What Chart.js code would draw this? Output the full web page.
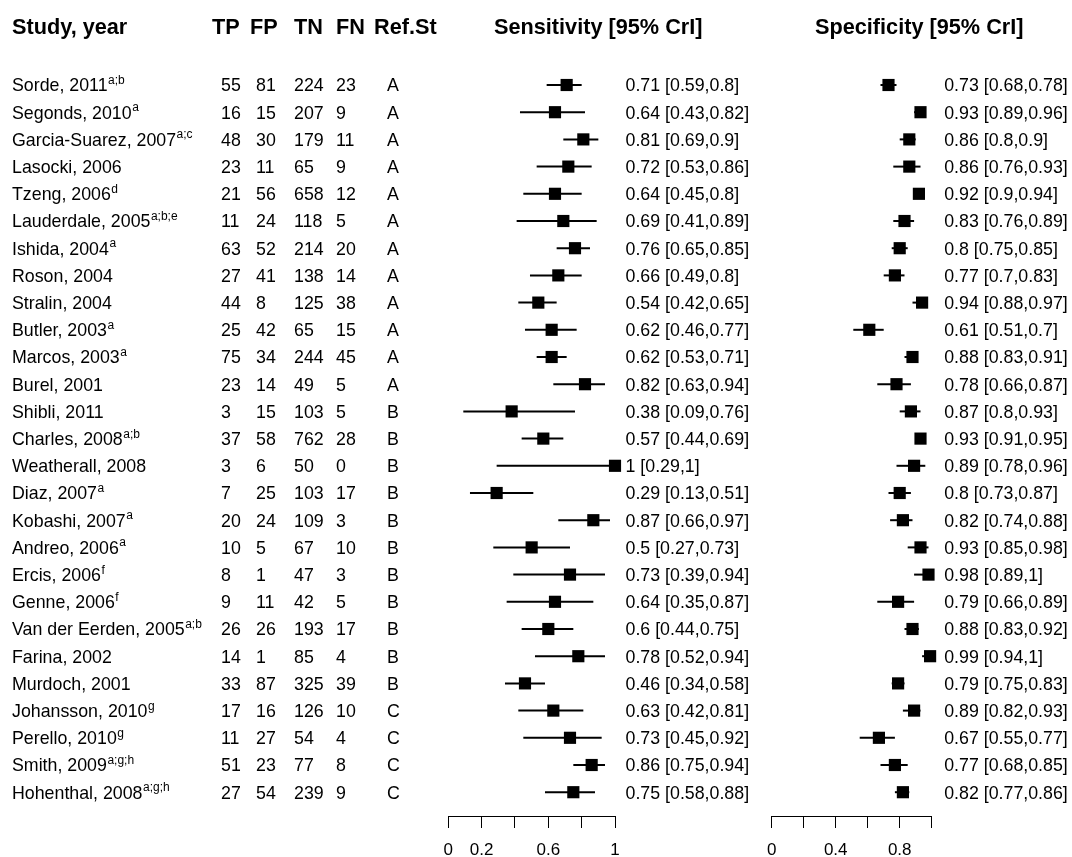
<!DOCTYPE html>
<html>
<head>
<meta charset="utf-8">
<script src="https://cdn.jsdelivr.net/npm/chart.js@4.4.1/dist/chart.umd.min.js"></script>
<style>
html, body { margin: 0; padding: 0; background: #fff; }
#page { position: relative; width: 1072px; height: 857px; overflow: hidden; }
.panel { position: absolute; top: 0; height: 857px; }
</style>
</head>
<body>
<div id="page">
  <div class="panel" id="sensBox" style="left:0;width:760px"><canvas id="sensChart"></canvas></div>
  <div class="panel" id="specBox" style="left:760px;width:312px"><canvas id="specChart"></canvas></div>
</div>
<script>
const studies = ['Sorde, 2011', 'Segonds, 2010', 'Garcia-Suarez, 2007', 'Lasocki, 2006', 'Tzeng, 2006',
  'Lauderdale, 2005', 'Ishida, 2004', 'Roson, 2004', 'Stralin, 2004', 'Butler, 2003', 'Marcos, 2003',
  'Burel, 2001', 'Shibli, 2011', 'Charles, 2008', 'Weatherall, 2008', 'Diaz, 2007', 'Kobashi, 2007',
  'Andreo, 2006', 'Ercis, 2006', 'Genne, 2006', 'Van der Eerden, 2005', 'Farina, 2002', 'Murdoch, 2001',
  'Johansson, 2010', 'Perello, 2010', 'Smith, 2009', 'Hohenthal, 2008'];
const notes = ['a;b', 'a', 'a;c', '', 'd', 'a;b;e', 'a', '', '', 'a', 'a', '', '', 'a;b', '', 'a', 'a',
  'a', 'f', 'f', 'a;b', '', '', 'g', 'g', 'a;g;h', 'a;g;h'];
const tp = [55, 16, 48, 23, 21, 11, 63, 27, 44, 25, 75, 23, 3, 37, 3, 7, 20, 10, 8, 9, 26, 14, 33, 17, 11, 51, 27];
const fp = [81, 15, 30, 11, 56, 24, 52, 41, 8, 42, 34, 14, 15, 58, 6, 25, 24, 5, 1, 11, 26, 1, 87, 16, 27, 23, 54];
const tn = [224, 207, 179, 65, 658, 118, 214, 138, 125, 65, 244, 49, 103, 762, 50, 103, 109, 67, 47, 42, 193, 85, 325, 126, 54, 77, 239];
const fn = [23, 9, 11, 9, 12, 5, 20, 14, 38, 15, 45, 5, 5, 28, 0, 17, 3, 10, 3, 5, 17, 4, 39, 10, 4, 8, 9];
const refSt = ['A', 'A', 'A', 'A', 'A', 'A', 'A', 'A', 'A', 'A', 'A', 'A', 'B', 'B', 'B', 'B', 'B', 'B',
  'B', 'B', 'B', 'B', 'B', 'C', 'C', 'C', 'C'];

const sensEst = [0.71, 0.64, 0.81, 0.72, 0.64, 0.69, 0.76, 0.66, 0.54, 0.62, 0.62, 0.82, 0.38, 0.57, 1,
  0.29, 0.87, 0.5, 0.73, 0.64, 0.6, 0.78, 0.46, 0.63, 0.73, 0.86, 0.75];
const sensLo = [0.59, 0.43, 0.69, 0.53, 0.45, 0.41, 0.65, 0.49, 0.42, 0.46, 0.53, 0.63, 0.09, 0.44, 0.29,
  0.13, 0.66, 0.27, 0.39, 0.35, 0.44, 0.52, 0.34, 0.42, 0.45, 0.75, 0.58];
const sensHi = [0.8, 0.82, 0.9, 0.86, 0.8, 0.89, 0.85, 0.8, 0.65, 0.77, 0.71, 0.94, 0.76, 0.69, 1,
  0.51, 0.97, 0.73, 0.94, 0.87, 0.75, 0.94, 0.58, 0.81, 0.92, 0.94, 0.88];
const specEst = [0.73, 0.93, 0.86, 0.86, 0.92, 0.83, 0.8, 0.77, 0.94, 0.61, 0.88, 0.78, 0.87, 0.93, 0.89,
  0.8, 0.82, 0.93, 0.98, 0.79, 0.88, 0.99, 0.79, 0.89, 0.67, 0.77, 0.82];
const specLo = [0.68, 0.89, 0.8, 0.76, 0.9, 0.76, 0.75, 0.7, 0.88, 0.51, 0.83, 0.66, 0.8, 0.91, 0.78,
  0.73, 0.74, 0.85, 0.89, 0.66, 0.83, 0.94, 0.75, 0.82, 0.55, 0.68, 0.77];
const specHi = [0.78, 0.96, 0.9, 0.93, 0.94, 0.89, 0.85, 0.83, 0.97, 0.7, 0.91, 0.87, 0.93, 0.95, 0.96,
  0.87, 0.88, 0.98, 1, 0.89, 0.92, 1, 0.83, 0.93, 0.77, 0.85, 0.86];

const sensTickLabels = ['0', '0.2', '0.6', '1'];
const specTickLabels = ['0', '0.4', '0.8'];

const FONT = '"Liberation Sans", Arial, Helvetica, sans-serif';
const BODY = 17.8;
const HEAD = 21.7;
const HEAD_Y = 34;

// table columns (x in page pixels, sens canvas starts at page x = 0)
const cols = [
  { head: 'Study, year', hx: 12, x: 12, vals: studies, sup: notes },
  { head: 'TP', hx: 212, x: 221, vals: tp },
  { head: 'FP', hx: 250, x: 256, vals: fp },
  { head: 'TN', hx: 294, x: 294, vals: tn },
  { head: 'FN', hx: 336, x: 336, vals: fn },
  { head: 'Ref.St', hx: 374, x: 387, vals: refSt }
];

function drawRowText(ctx, txt, x, y, sup) {
  ctx.font = BODY + 'px ' + FONT;
  ctx.fillText(txt, x, y + BODY * 0.36);
  if (sup) {
    const w = ctx.measureText(txt).width;
    ctx.font = '12px ' + FONT;
    ctx.fillText(sup, x + w + 0.5, y + BODY * 0.36 - 7.5);
  }
}

const whiskers = {
  id: 'whiskers',
  beforeDatasetsDraw(chart, args, opts) {
    const { ctx, scales: { x, y } } = chart;
    ctx.save();
    ctx.strokeStyle = '#000';
    ctx.lineWidth = 2;
    opts.lo.forEach((lo, i) => {
      const py = y.getPixelForValue(i);
      ctx.beginPath();
      ctx.moveTo(x.getPixelForValue(lo), py);
      ctx.lineTo(x.getPixelForValue(opts.hi[i]), py);
      ctx.stroke();
    });
    ctx.restore();
  }
};

const labels = {
  id: 'labels',
  afterDraw(chart, args, opts) {
    const { ctx, chartArea, scales: { y } } = chart;
    ctx.save();
    ctx.fillStyle = '#000';
    ctx.textAlign = 'left';
    ctx.textBaseline = 'alphabetic';
    ctx.font = 'bold ' + HEAD + 'px ' + FONT;
    ctx.fillText(opts.title, opts.titleX, HEAD_Y);
    if (opts.table) {
      cols.forEach(c => {
        c.vals.forEach((v, i) => drawRowText(ctx, String(v), c.x, y.getPixelForValue(i), c.sup ? c.sup[i] : ''));
      });
      ctx.font = 'bold ' + HEAD + 'px ' + FONT;
      cols.forEach(c => ctx.fillText(c.head, c.hx, HEAD_Y));
    }
    const tx = chartArea.right + opts.gap;
    opts.est.forEach((v, i) => {
      drawRowText(ctx, v + ' [' + opts.lo[i] + ',' + opts.hi[i] + ']', tx, y.getPixelForValue(i), '');
    });
    ctx.restore();
  }
};

const ROW0 = 85;
const STEP = 27.2;
const AXIS_Y = 816;

function makeChart(id, est, lo, hi, tickLabels, padL, padR, title, titleX, gap, table) {
  return new Chart(document.getElementById(id), {
    type: 'scatter',
    data: {
      datasets: [{
        data: est.map((v, i) => ({ x: v, y: i })),
        pointStyle: 'rect',
        pointRadius: 8.6,
        pointHoverRadius: 8.6,
        backgroundColor: '#000',
        borderColor: '#000',
        borderWidth: 0,
        clip: false
      }]
    },
    options: {
      responsive: true,
      maintainAspectRatio: false,
      animation: false,
      events: [],
      layout: { padding: { left: padL, right: padR, top: ROW0 - STEP, bottom: 0 } },
      plugins: {
        legend: { display: false },
        tooltip: { enabled: false },
        whiskers: { lo, hi },
        labels: { est, lo, hi, title, titleX, gap, table }
      },
      scales: {
        x: {
          type: 'linear',
          min: 0,
          max: 1,
          afterFit: s => {
            s.height = 857 - AXIS_Y;
            s.paddingLeft = 0;
            s.paddingRight = 0;
          },
          border: { display: true, color: '#000', width: 1 },
          grid: { drawOnChartArea: false, drawTicks: true, tickLength: 12, color: '#000', lineWidth: 1 },
          ticks: {
            stepSize: 0.2,
            autoSkip: false,
            maxRotation: 0,
            padding: 12,
            color: '#000',
            font: { family: FONT, size: 17 },
            callback: v => {
              const s = String(Math.round(v * 10) / 10);
              return tickLabels.includes(s) ? s : '';
            }
          }
        },
        y: {
          type: 'linear',
          display: false,
          reverse: true,
          min: -1,
          max: (AXIS_Y - ROW0) / STEP
        }
      }
    },
    plugins: [whiskers, labels]
  });
}

makeChart('sensChart', sensEst, sensLo, sensHi, sensTickLabels, 448.3, 760 - 615, 'Sensitivity [95% CrI]', 494, 10.5, true);
makeChart('specChart', specEst, specLo, specHi, specTickLabels, 771.7 - 760, 1072 - 931.7, 'Specificity [95% CrI]', 815 - 760, 12.5, false);
</script>
</body>
</html>
